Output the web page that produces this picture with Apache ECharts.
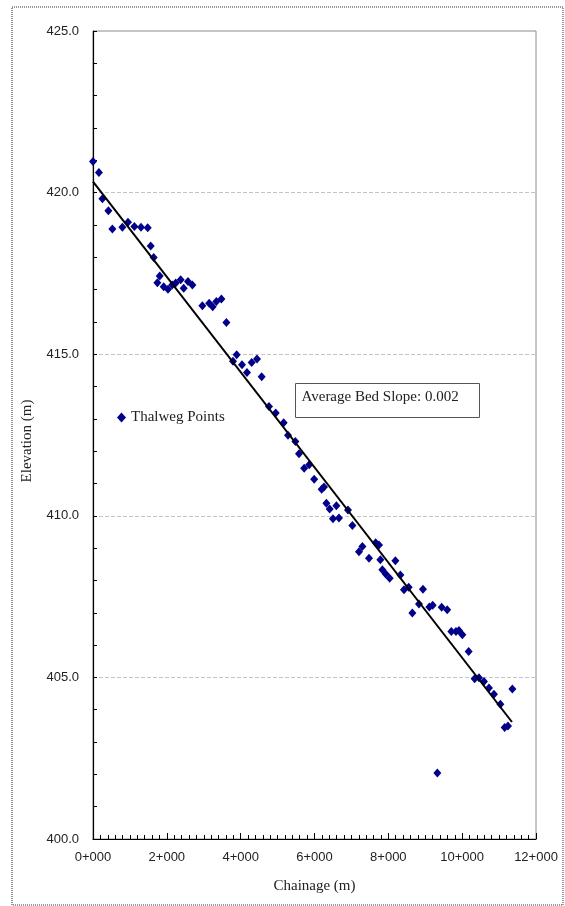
<!DOCTYPE html>
<html>
<head>
<meta charset="utf-8">
<script src="https://cdn.jsdelivr.net/npm/echarts@6/dist/echarts.min.js"></script>
<style>
  html, body { margin: 0; padding: 0; background: #fff; }
  #chart { width: 565px; height: 906px; }
</style>
</head>
<body>
<div id="chart"></div>
<script>
// thalweg survey points: chainage (m) and bed elevation (m)
var chainage = [0, 160, 255, 417, 525, 796, 948, 1121, 1300, 1482, 1563, 1644, 1744, 1807, 1915, 2031,
  2145, 2240, 2375, 2457, 2573, 2692, 2963, 3147, 3242, 3342, 3478, 3613, 3792, 3892, 4036, 4171,
  4298, 4442, 4569, 4767, 4949, 5165, 5282, 5482, 5580, 5720, 5856, 5991, 6194, 6257, 6322, 6411,
  6500, 6593, 6663, 6907, 7026, 7205, 7297, 7476, 7657, 7747, 7784, 7838, 7928, 8036, 8191, 8326,
  8424, 8551, 8651, 8830, 8938, 9111, 9201, 9328, 9445, 9594, 9707, 9832, 9913, 10005, 10176, 10338,
  10455, 10590, 10726, 10861, 11035, 11151, 11241, 11360];
var elevation = [420.96, 420.62, 419.81, 419.44, 418.87, 418.93, 419.08, 418.95, 418.93, 418.91, 418.35, 417.99, 417.21, 417.42, 417.09, 417.01,
  417.14, 417.20, 417.30, 417.04, 417.25, 417.14, 416.50, 416.58, 416.47, 416.63, 416.71, 415.98, 414.78, 414.98, 414.67, 414.43,
  414.74, 414.85, 414.30, 413.38, 413.18, 412.88, 412.49, 412.30, 411.92, 411.47, 411.58, 411.13, 410.82, 410.89, 410.39, 410.21,
  409.91, 410.31, 409.93, 410.18, 409.70, 408.89, 409.05, 408.69, 409.17, 409.10, 408.64, 408.33, 408.20, 408.07, 408.61, 408.17,
  407.71, 407.79, 406.99, 407.27, 407.73, 407.18, 407.23, 402.04, 407.17, 407.09, 406.42, 406.42, 406.45, 406.32, 405.80, 404.96,
  404.99, 404.87, 404.67, 404.48, 404.17, 403.45, 403.50, 404.64];

// fitted trend line ends
var trendX = [0, 11349];
var trendY = [420.34, 403.62];

var xTickLabels = ['0+000', '2+000', '4+000', '6+000', '8+000', '10+000', '12+000'];
var yTickLabels = ['400.0', '405.0', '410.0', '415.0', '420.0', '425.0'];

var points = chainage.map(function (c, i) { return [c, elevation[i]]; });
var trend = trendX.map(function (c, i) { return [c, trendY[i]]; });

var serif = '"Liberation Serif", "DejaVu Serif", serif';
var sans = '"Liberation Sans", Arial, sans-serif';

var myChart = echarts.init(document.getElementById('chart'));
var option = {
  backgroundColor: '#fff',
  animation: false,
  grid: {
    left: 93, top: 31, right: 29, bottom: 67,
    show: true, borderColor: '#8c8c8c', borderWidth: 1
  },
  legend: {
    data: [{ name: 'Thalweg Points', icon: 'diamond' }],
    left: 112, top: 405,
    itemWidth: 9, itemHeight: 10, itemGap: 4,
    textStyle: { fontFamily: serif, fontSize: 15, color: '#222' }
  },
  xAxis: {
    type: 'value',
    min: 0, max: 12000, interval: 2000,
    name: 'Chainage (m)',
    nameLocation: 'middle', nameGap: 40,
    nameTextStyle: { fontFamily: serif, fontSize: 15, color: '#222' },
    axisLine: { lineStyle: { color: '#000', width: 1.2 } },
    axisTick: { inside: true, length: 6, lineStyle: { color: '#000' } },
    minorTick: { show: true, splitNumber: 10, length: 4, lineStyle: { color: '#000' } },
    splitLine: { show: false },
    axisLabel: {
      margin: 12, fontFamily: sans, fontSize: 13, color: '#222',
      formatter: function (v) { return xTickLabels[Math.round(v / 2000)]; }
    }
  },
  yAxis: {
    type: 'value',
    min: 400, max: 425, interval: 5,
    name: 'Elevation (m)',
    nameLocation: 'middle', nameGap: 58, nameRotate: 90,
    nameTextStyle: { fontFamily: serif, fontSize: 15, color: '#222', padding: [0, 12, 0, 0] },
    axisLine: { show: true, lineStyle: { color: '#000', width: 1.2 } },
    axisTick: { inside: true, length: 4, lineStyle: { color: '#000' } },
    minorTick: { show: true, splitNumber: 5, length: 4, lineStyle: { color: '#000' } },
    splitLine: { show: true, lineStyle: { color: '#c4c4c4', type: 'dashed', width: 1 } },
    axisLabel: {
      margin: 14, fontFamily: sans, fontSize: 13, color: '#222',
      formatter: function (v) { return yTickLabels[Math.round((v - 400) / 5)]; }
    }
  },
  series: [
    {
      name: 'Thalweg Points',
      type: 'scatter',
      symbol: 'diamond',
      symbolSize: [8, 9],
      itemStyle: { color: '#00008b', opacity: 1 },
      data: points,
      z: 3
    },
    {
      name: 'Trend',
      type: 'line',
      data: trend,
      symbol: 'none',
      lineStyle: { color: '#000', width: 2 },
      z: 4
    }
  ],
  graphic: [
    {
      type: 'rect',
      shape: { x: 12, y: 7, width: 551, height: 898 },
      style: { fill: 'none', stroke: '#333', lineWidth: 1, lineDash: [1, 1] },
      silent: true
    },
    {
      type: 'group',
      left: 295, top: 383,
      children: [
        {
          type: 'rect',
          shape: { x: 0, y: 0, width: 184, height: 34 },
          style: { fill: '#fff', stroke: '#555', lineWidth: 1 }
        },
        {
          type: 'text',
          x: 6, y: 14,
          style: {
            text: 'Average Bed Slope: 0.002',
            font: '15px ' + serif,
            fill: '#222',
            verticalAlign: 'middle'
          }
        }
      ]
    }
  ]
};
myChart.setOption(option);
</script>
</body>
</html>
